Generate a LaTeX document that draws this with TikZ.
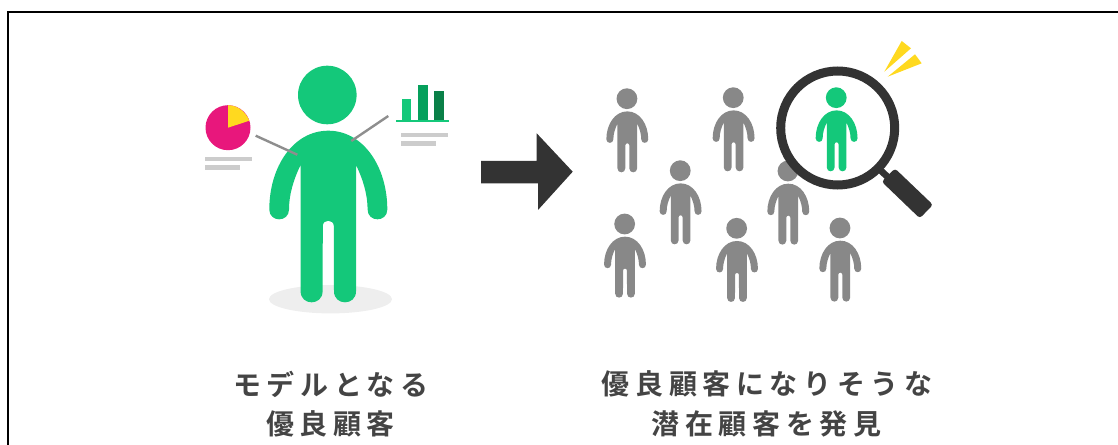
\documentclass[tikz,border=0pt]{standalone}
\usepackage{fontspec}
\newfontfamily\cjk[LetterSpace=20]{Noto Sans CJK JP Bold}
\definecolor{figgreen}{HTML}{14C87A}
\definecolor{midgreen}{HTML}{06A05C}
\definecolor{deepgreen}{HTML}{0A8048}
\definecolor{figgray}{HTML}{888888}
\definecolor{inkdark}{HTML}{333333}
\definecolor{textdark}{HTML}{444444}
\definecolor{piepink}{HTML}{E8177C}
\definecolor{sunny}{HTML}{FFD91F}
\definecolor{barline}{HTML}{CCCCCC}
\definecolor{leader}{HTML}{8E8E8E}
\definecolor{floorshade}{HTML}{EEEEEE}
\tikzset{
  caption/.style={font=\cjk\fontsize{21pt}{24pt}\selectfont,text=textdark,inner sep=0pt,anchor=center},
  textbar/.style={fill=barline,draw=none},
  leaderline/.style={draw=leader,line width=1.8pt},
  darkshape/.style={fill=inkdark,draw=none},
  ray/.style={fill=sunny,draw=none}
}
\newcommand{\figperson}[4]{%
  \begin{scope}[shift={(#1,#2)},scale=#3]
    \fill[#4] (-1,0) circle[radius=29.3];
    \fill[#4] (0,35.7)
      .. controls (35,35.7) and (59,71.7) .. (59,114.5)
      .. controls (59,127.6) and (39.3,127.6) .. (39.3,114.5)
      .. controls (39.3,100) and (35,85) .. (27.7,70)
      -- (27.7,196.3)
      .. controls (27.7,211) and (5.7,211) .. (5.7,196.3)
      -- (5.5,131)
      .. controls (5.5,124) and (-5.5,124) .. (-5.5,131)
      -- (-5.7,196.3)
      .. controls (-5.7,211) and (-27.7,211) .. (-27.7,196.3)
      -- (-27.7,70)
      .. controls (-35,85) and (-39.3,100) .. (-39.3,114.5)
      .. controls (-39.3,127.6) and (-59,127.6) .. (-59,114.5)
      .. controls (-59,71.7) and (-35,35.7) .. (0,35.7) -- cycle;
  \end{scope}}
\begin{document}
\begin{tikzpicture}[x=0.75pt,y=-0.75pt]
\useasboundingbox (0,0) rectangle (1118,445);
% frame (cut off at right and bottom)
\draw[black,line width=1.5pt] (8,445) -- (8,12) -- (1118,12);

% left figure
\fill[floorshade] (330.5,299.2) ellipse[x radius=61.5,y radius=14.2];
\figperson{328.3}{95}{1}{figgreen}
\draw[leaderline] (255.7,135.7) -- (297.3,154.7);
\draw[leaderline] (388.3,116) -- (351.3,141);

% pie
\fill[piepink] (228,127.7) circle[radius=22.5];
\fill[sunny] (228,127.7) -- (228,105.2) .. controls (236.5,105.2) and (245,110.5) .. (249.4,120.7) -- cycle;
\fill[textbar] (205,156.7) rectangle (252.3,161.3);
\fill[textbar] (205,165.3) rectangle (240,170);

% bars
\fill[figgreen] (402,99) rectangle (411.3,120);
\fill[midgreen] (418,85) rectangle (428,120);
\fill[deepgreen] (434.3,90.7) rectangle (444.3,120);
\fill[figgreen] (396,119.7) rectangle (448.7,122);
\fill[textbar] (400.7,132.7) rectangle (448,137.3);
\fill[textbar] (400.7,141.3) rectangle (435.7,146.3);

% arrow
\fill[darkshape] (481,161) -- (536.7,161) -- (536.7,133.3) -- (572.7,171.7) -- (538,210) -- (538,183.3) -- (481,183.3) -- cycle;

% crowd
\figperson{627.3}{98.7}{0.355}{figgray}
\figperson{733.6}{97.7}{0.355}{figgray}
\figperson{680.6}{170.7}{0.355}{figgray}
\figperson{625}{224}{0.355}{figgray}
\figperson{737}{228.3}{0.355}{figgray}
\figperson{788.3}{171}{0.355}{figgray}
\figperson{840.3}{228}{0.355}{figgray}

% magnifier
\fill[white] (837.7,128) circle[radius=57];
\draw[inkdark,line width=6.75pt] (837.7,128) circle[radius=57];
\draw[inkdark,line width=5pt] (878,168) -- (892,181);
\fill[inkdark,rounded corners=2.2pt] (895,168.5) -- (881.7,181.7) -- (919.8,218.3) -- (933,204.8) -- cycle;
\figperson{836.6}{97.7}{0.355}{figgreen}

% rays
\fill[ray] (884.3,71.7) -- (901.7,41) -- (911,48.3) -- cycle;
\fill[ray] (887.7,76.7) -- (915,54.3) -- (921.7,63.3) -- cycle;

% captions
\node[caption] (leftone) at (331,384) {モデルとなる};
\node[caption] (lefttwo) at (330.5,424) {優良顧客};
\node[caption] (rightone) at (767,384) {優良顧客になりそうな};
\node[caption] (righttwo) at (766.5,424) {潜在顧客を発見};
\end{tikzpicture}
\end{document}
